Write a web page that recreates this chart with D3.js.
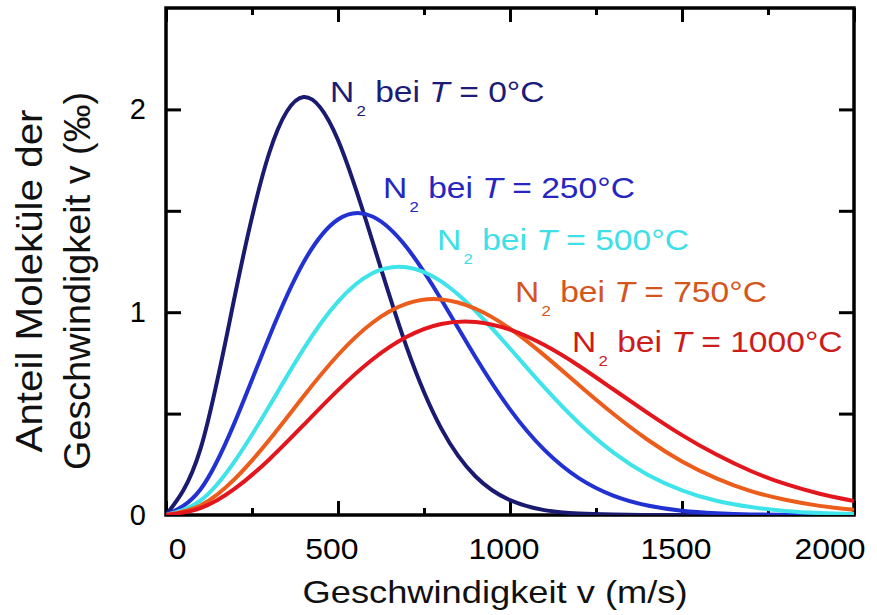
<!DOCTYPE html>
<html>
<head>
<meta charset="utf-8">
<script src="https://cdn.jsdelivr.net/npm/d3@7"></script>
<style>
  body { margin: 0; background: #fff; }
  text { font-family: "Liberation Sans", Arial, Helvetica, sans-serif; fill: #000; }
</style>
</head>
<body>
<div id="chart"></div>
<script>
// Geschwindigkeit v in m/s
const speeds = [0, 100, 200, 300, 400, 500, 600, 700, 800, 900, 1000,
  1100, 1200, 1300, 1400, 1500, 1600, 1700, 1800, 1900, 2000];

// Anteil (‰) pro Temperatur
const t0 = [0, 0.325, 1.080, 1.785, 2.061, 1.849, 1.351, 0.825, 0.427, 0.190, 0.073,
  0.024, 0.007, 0.002, 0, 0, 0, 0, 0, 0, 0];
const t250 = [0, 0.126, 0.458, 0.878, 1.246, 1.457, 1.472, 1.319, 1.063, 0.778, 0.521,
  0.321, 0.182, 0.096, 0.047, 0.021, 0.009, 0.003, 0.001, 0, 0];
const t500 = [0, 0.071, 0.266, 0.536, 0.819, 1.052, 1.192, 1.222, 1.152, 1.006, 0.821,
  0.629, 0.454, 0.309, 0.199, 0.122, 0.070, 0.039, 0.020, 0.010, 0.005];
const t750 = [0, 0.047, 0.178, 0.370, 0.586, 0.789, 0.948, 1.042, 1.063, 1.017, 0.919,
  0.787, 0.641, 0.499, 0.371, 0.264, 0.181, 0.118, 0.075, 0.045, 0.026];
const t1000 = [0, 0.034, 0.130, 0.274, 0.444, 0.616, 0.767, 0.879, 0.942, 0.952, 0.914,
  0.838, 0.736, 0.620, 0.504, 0.394, 0.298, 0.217, 0.153, 0.105, 0.069];

const temps = ["0°C", "250°C", "500°C", "750°C", "1000°C"];
const xTicksMajor = [0, 500, 1000, 1500, 2000];
const xTicksMinor = [250, 750, 1250, 1750];
const yTicks = [0.5, 1, 1.5, 2];
const yLabels = [0, 1, 2];

const series = [
  { temp: temps[0], values: t0, color: "#1a1a70", textColor: "#1c1c78", pos: [330, 102] },
  { temp: temps[1], values: t250, color: "#2231d2", textColor: "#2626c0", pos: [383, 198] },
  { temp: temps[2], values: t500, color: "#3ee4ea", textColor: "#3ee0e8", pos: [437, 250] },
  { temp: temps[3], values: t750, color: "#ec5c1a", textColor: "#d4561c", pos: [515, 302] },
  { temp: temps[4], values: t1000, color: "#e2161c", textColor: "#cc1c1c", pos: [572, 352] },
];

const W = 877, H = 615;
const plot = { left: 166, top: 8, right: 854, bottom: 515 };

const svg = d3
  .select("#chart")
  .append("svg")
  .attr("width", W)
  .attr("height", H);

svg.append("rect").attr("width", W).attr("height", H).attr("fill", "#fff");

const x = d3.scaleLinear().domain([0, 2000]).range([plot.left, plot.right]);
const y = d3.scaleLinear().domain([0, 2.5]).range([plot.bottom, plot.top]);

svg.append("clipPath").attr("id", "clip")
  .append("rect")
  .attr("x", plot.left)
  .attr("y", plot.top)
  .attr("width", plot.right - plot.left)
  .attr("height", plot.bottom - plot.top);

// Ticks (nach innen)
function tickAxis(axis, tx, ty) {
  const g = svg.append("g").attr("transform", `translate(${tx},${ty})`).call(axis);
  g.select(".domain").remove();
  g.selectAll(".tick line").attr("stroke", "#000").attr("stroke-width", 3);
  return g;
}

const bottomAxis = tickAxis(
  d3.axisBottom(x).tickValues(xTicksMajor).tickFormat(d3.format("d"))
    .tickSizeInner(-14).tickSizeOuter(0).tickPadding(23),
  0, plot.bottom);
tickAxis(d3.axisBottom(x).tickValues(xTicksMinor).tickSize(-7).tickFormat(""), 0, plot.bottom);
tickAxis(d3.axisTop(x).tickValues(xTicksMajor).tickSize(-14).tickFormat(""), 0, plot.top);
tickAxis(d3.axisTop(x).tickValues(xTicksMinor).tickSize(-7).tickFormat(""), 0, plot.top);
tickAxis(d3.axisLeft(y).tickValues(yTicks).tickSize(-15).tickFormat(""), plot.left, 0);
tickAxis(d3.axisRight(y).tickValues(yTicks).tickSize(-15).tickFormat(""), plot.right, 0);

bottomAxis.selectAll(".tick text")
  .attr("font-size", 29)
  .attr("font-family", null)
  .attr("fill", "#111")
  .attr("transform", "scale(1.1,1)")
  .attr("x", (d, i) => (i === 0 ? 2 : i === xTicksMajor.length - 1 ? 10 : -6))
  .attr("text-anchor", (d, i) => (i === 0 ? "start" : i === xTicksMajor.length - 1 ? "end" : "middle"));

// y-Beschriftung
svg.append("g")
  .selectAll("text")
  .data(yLabels)
  .join("text")
  .attr("x", 146)
  .attr("y", (d) => y(d))
  .attr("dy", "0.34em")
  .attr("text-anchor", "end")
  .attr("font-size", 29)
  .attr("fill", "#111")
  .text((d) => d);

// Rahmen
svg.append("rect")
  .attr("x", plot.left)
  .attr("y", plot.top)
  .attr("width", plot.right - plot.left)
  .attr("height", plot.bottom - plot.top)
  .attr("fill", "none")
  .attr("stroke", "#000")
  .attr("stroke-width", 3.5);

// Kurven
const line = d3
  .line()
  .x((d, i) => x(speeds[i]))
  .y((d) => y(d))
  .curve(d3.curveNatural);

svg.append("g")
  .attr("clip-path", "url(#clip)")
  .selectAll("path")
  .data(series)
  .join("path")
  .attr("d", (d) => line(d.values))
  .attr("fill", "none")
  .attr("stroke", (d) => d.color)
  .attr("stroke-width", 4)
  .attr("stroke-linejoin", "round");

// Kurvenbeschriftungen
series.forEach((s) => {
  const t = svg.append("text")
    .attr("transform", `translate(${s.pos[0]},${s.pos[1]}) scale(1.12,1)`)
    .attr("font-size", 30)
    .style("fill", s.textColor);
  t.append("tspan").text("N");
  t.append("tspan").attr("font-size", 15).attr("dx", 2).attr("dy", 14).text("2");
  t.append("tspan").attr("dy", -14).text(" bei ");
  t.append("tspan").attr("font-style", "italic").text("T");
  t.append("tspan").text(" = " + s.temp);
});

// Achsentitel
svg.append("text")
  .attr("x", 495)
  .attr("y", 603)
  .attr("text-anchor", "middle")
  .attr("font-size", 32)
  .attr("textLength", 385)
  .attr("lengthAdjust", "spacingAndGlyphs")
  .style("fill", "#111")
  .text("Geschwindigkeit v (m/s)");

const yTitle = ["Anteil Moleküle der", "Geschwindigkeit v (‰)"];
const yTitleLen = [343, 378];
yTitle.forEach((txt, i) => {
  svg.append("text")
    .attr("transform", `translate(${42 + i * 48},281) rotate(-90)`)
    .attr("text-anchor", "middle")
    .attr("font-size", 37)
    .attr("textLength", yTitleLen[i])
    .attr("lengthAdjust", "spacingAndGlyphs")
    .style("fill", "#111")
    .text(txt);
});
</script>
</body>
</html>
